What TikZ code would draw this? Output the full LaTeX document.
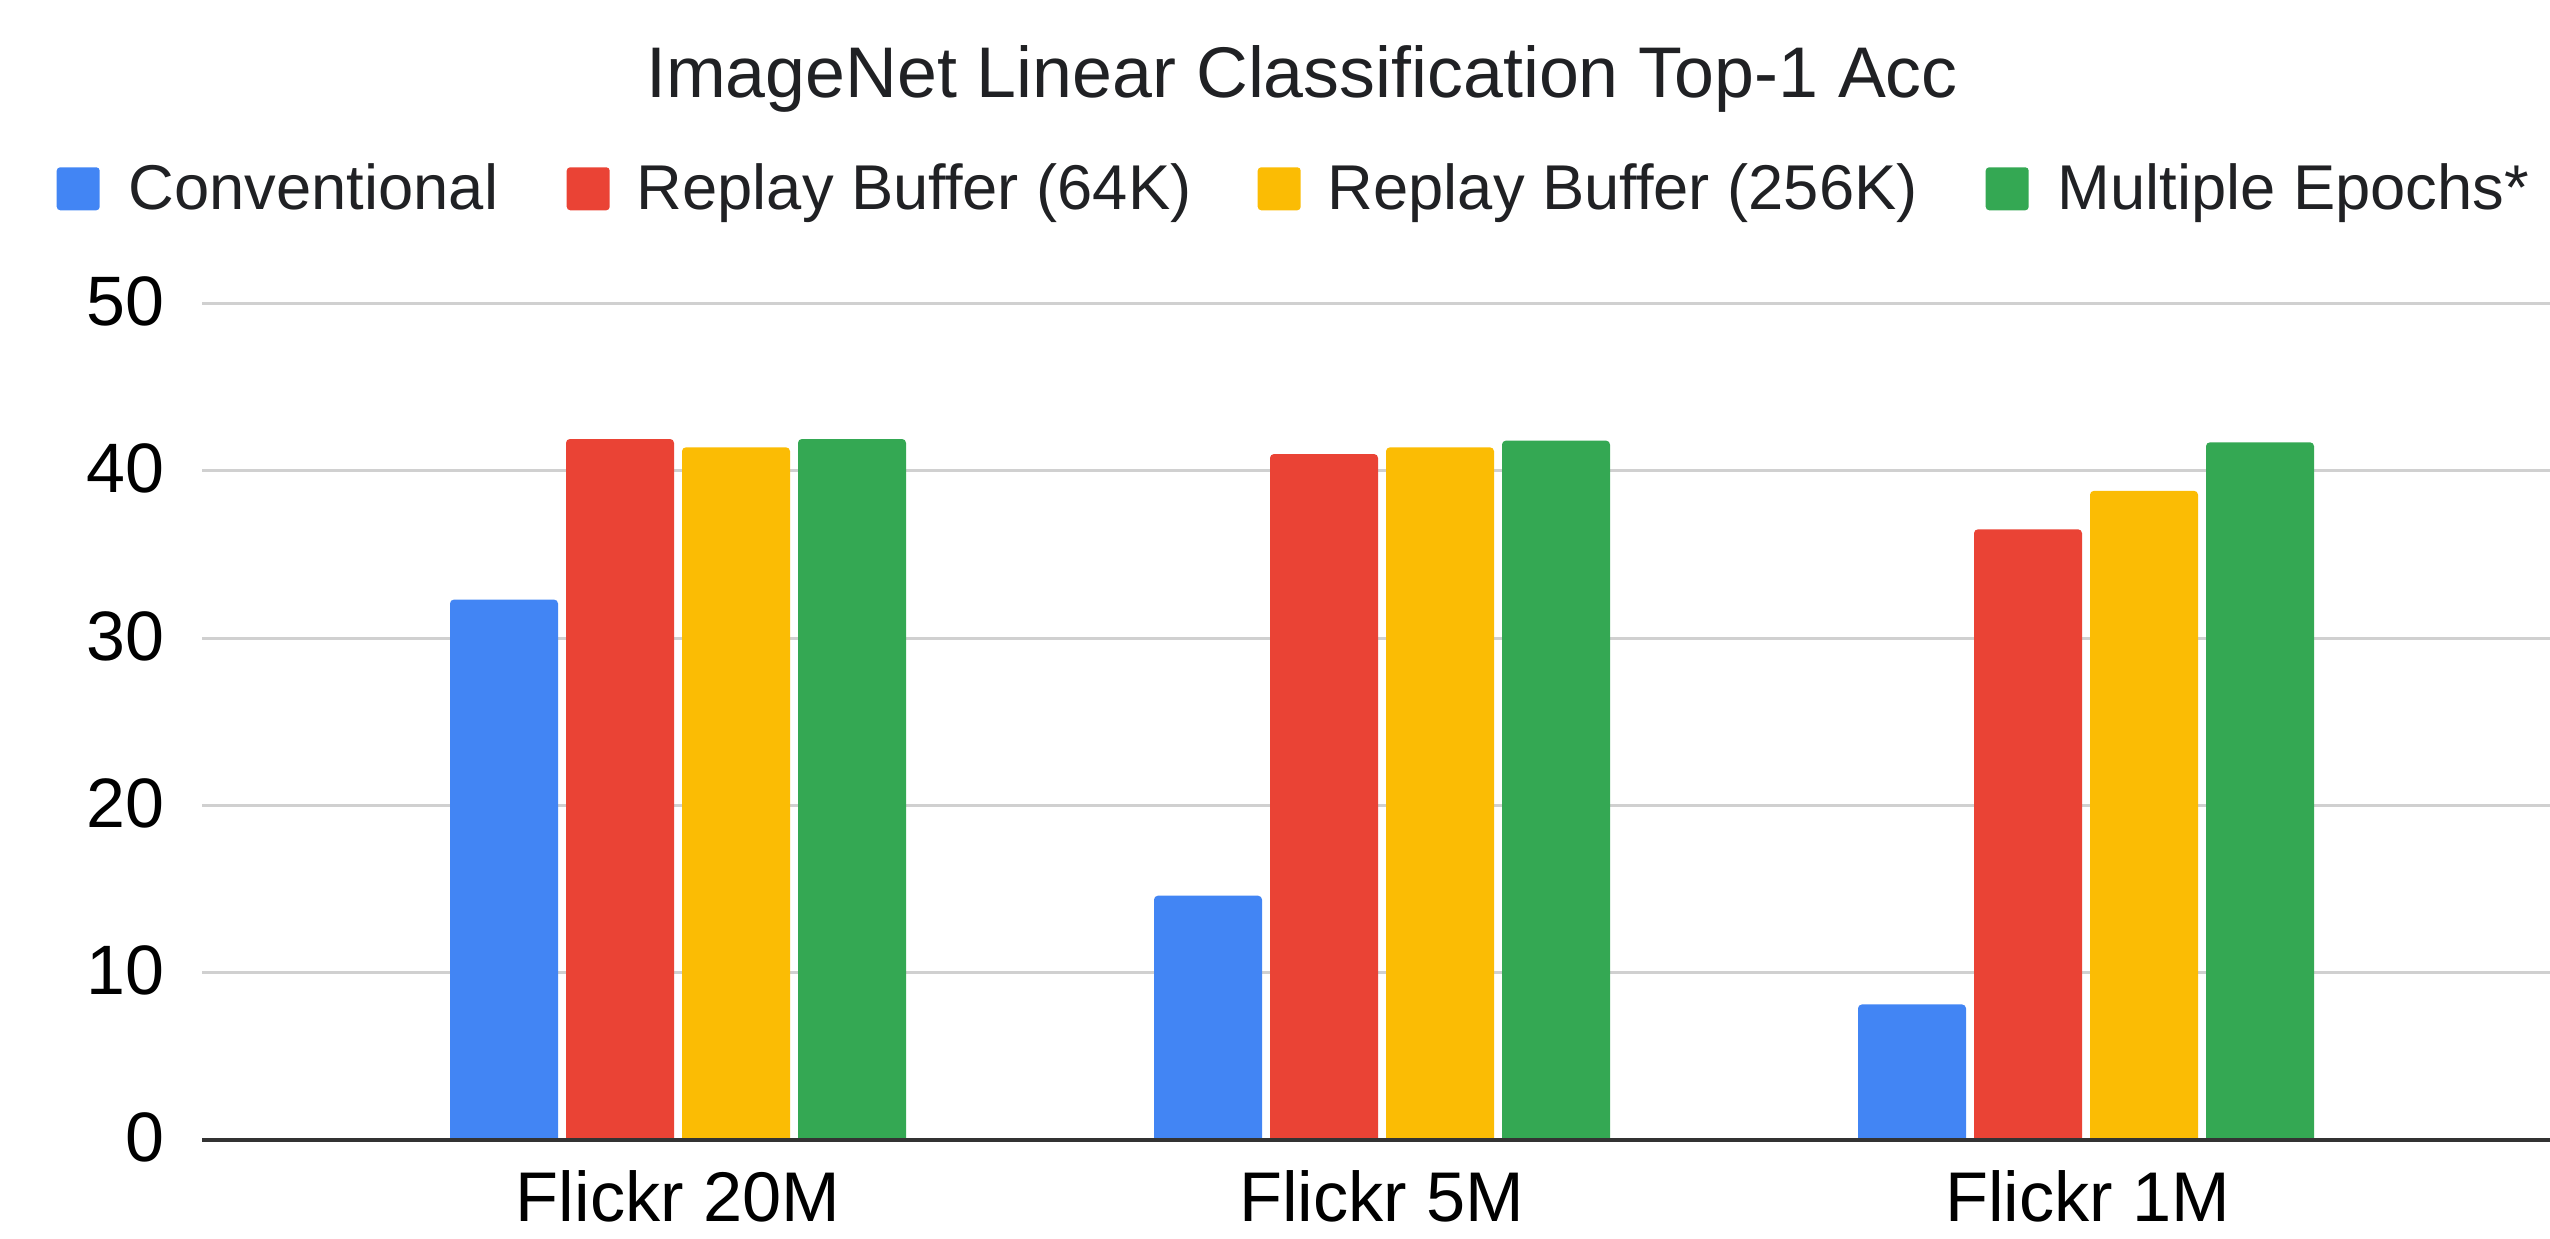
\documentclass[tikz,border=0pt]{standalone}
\usepackage{fontspec}
\setmainfont{Liberation Sans}
\usepackage{tikz}

\definecolor{azul}{HTML}{4285F4}
\definecolor{vermelho}{HTML}{EA4335}
\definecolor{amarelo}{HTML}{FBBC04}
\definecolor{verde}{HTML}{34A853}
\definecolor{grade}{HTML}{D0D0D0}
\definecolor{eixo}{HTML}{333333}
\definecolor{texto}{HTML}{202124}

\begin{document}
\begin{tikzpicture}[x=0.01cm, y=0.01cm,
    titulo/.style={inner sep=0, anchor=base, text=texto, font=\fontsize{20.4}{24}\selectfont},
    legenda/.style={inner sep=0, anchor=base west, text=texto, font=\fontsize{18}{22}\selectfont},
    rotulo/.style={inner sep=0, anchor=base east, font=\fontsize{19.9}{24}\selectfont},
    categoria/.style={inner sep=0, anchor=base, font=\fontsize{20}{24}\selectfont},
    quadrado/.style={rectangle, rounded corners=1pt, inner sep=0, minimum size=0.43cm},
    barra/.style={rounded corners=1.1pt}]
    \useasboundingbox (0,0) rectangle (2550,1239);

    % Titulo
    \node[titulo] (titulo) at (1302,1141) {ImageNet Linear Classification Top-1 Acc};

    % Legenda
    \foreach \i/\xq/\xt/\cor/\nome in {1/56/128/azul/Conventional,
                                      2/566/636/vermelho/Replay Buffer (64K),
                                      3/1257/1327/amarelo/Replay Buffer (256K),
                                      4/1985/2057/verde/Multiple Epochs*} {
        \node[quadrado, fill=\cor, anchor=south west] (q\i) at (\xq,1028) {};
        \node[legenda] (leg\i) at (\xt,1029) {\nome};
    }

    % Grade e rotulos do eixo y
    \foreach \v in {10,20,30,40,50} {
        \draw[grade, line width=0.03cm] (202,99+16.73*\v) coordinate (g\v) -- (2550,99+16.73*\v);
    }
    \foreach \v in {0,10,20,30,40,50} {
        \node[rotulo] (r\v) at (165,77+16.73*\v) {\v};
    }

    % Barras
    \foreach \g/\a/\b/\c/\d in {0/32.3/41.9/41.4/41.9,
                                1/14.6/41.0/41.4/41.8,
                                2/8.1/36.5/38.8/41.7} {
        \foreach \s/\val/\cor in {0/\a/azul, 1/\b/vermelho, 2/\c/amarelo, 3/\d/verde} {
            \pgfmathsetmacro{\xa}{450+704*\g+116*\s}
            \pgfmathsetmacro{\ya}{99+16.73*\val}
            \fill[\cor] (\xa,99) -- (\xa,\ya-5) [barra] -- (\xa,\ya) -- (\xa+108,\ya) [sharp corners] -- (\xa+108,\ya-5) -- (\xa+108,99) -- cycle;
        }
    }

    % Eixo x
    \draw[eixo, line width=0.04cm] (202,99) coordinate (origem) -- (2550,99) coordinate (fim);

    % Rotulos das categorias
    \node[categoria] (c20M) at (678,17) {Flickr 20M};
    \node[categoria] (c5M) at (1382,17) {Flickr 5M};
    \node[categoria] (c1M) at (2088,17) {Flickr 1M};
\end{tikzpicture}
\end{document}
